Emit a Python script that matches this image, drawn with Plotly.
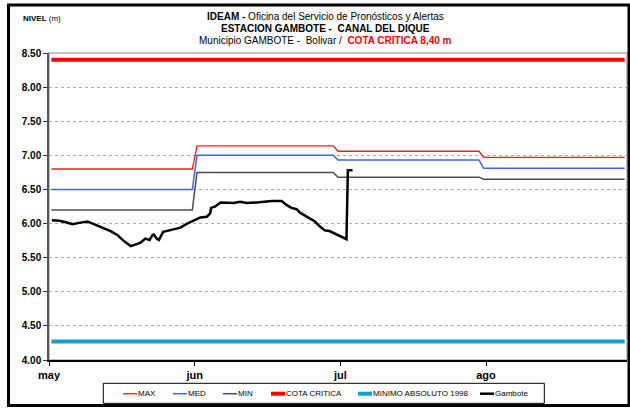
import plotly.graph_objects as go

# dias desde 1 de mayo (0 = may 1 ... 122 = ago 31)
month_names = ["may", "jun", "jul", "ago"]
month_days = [31, 30, 31, 31]

# niveles mensuales historicos (m)
max_vals = [6.80, 7.14, 7.06, 6.97]
med_vals = [6.50, 7.00, 6.93, 6.81]
min_vals = [6.20, 6.75, 6.68, 6.65]
cota_critica = 8.40
minimo_1998 = 4.27

# serie observada Gambote
gambote_day = [0.1, 1.7, 3.1, 4.5, 5.9, 7.7, 8.8, 10.2, 11.2, 12.6, 14.1, 15.5,
               16.9, 17.9, 19.0, 20.0, 20.9, 21.5, 21.8, 22.4, 22.9, 23.8, 25.0,
               26.1, 27.5, 28.9, 30.3, 31.7, 33.1, 33.8, 34.0, 34.9, 36.0, 37.4,
               38.8, 40.2, 41.6, 43.7, 45.5, 46.9, 49.0, 50.1, 51.1, 52.2, 52.9,
               53.9, 55.0, 56.1, 57.1, 58.2, 59.2, 60.3, 61.7, 62.8, 63.1, 64.1]
gambote_val = [6.05, 6.04, 6.02, 5.99, 6.01, 6.03, 6.00, 5.96, 5.94, 5.89, 5.83, 5.74,
               5.67, 5.69, 5.72, 5.78, 5.76, 5.83, 5.84, 5.78, 5.76, 5.88, 5.90,
               5.91, 5.94, 6.00, 6.04, 6.09, 6.10, 6.15, 6.23, 6.25, 6.31, 6.31,
               6.30, 6.32, 6.30, 6.31, 6.32, 6.33, 6.33, 6.27, 6.23, 6.21, 6.16,
               6.12, 6.08, 6.03, 5.96, 5.90, 5.89, 5.85, 5.80, 5.77, 6.78, 6.78]

days = list(range(sum(month_days)))


def daily(vals):
    out = []
    for v, n in zip(vals, month_days):
        out += [v] * n
    return out


FONT = "Liberation Sans Narrow, Arial Narrow, Liberation Sans, Arial"

# plot area in pixels
L, R, T, B = 49, 627, 53, 360
W, H = 630, 409


def px(X):
    return (X - L) / (R - L)


def py(Y):
    return (B - Y) / (B - T)


series = [
    ("MAX", daily(max_vals), "#ff1a1a", 1.3),
    ("MED", daily(med_vals), "#3f66e0", 1.5),
    ("MIN", daily(min_vals), "#4d4d4d", 1.5),
    ("COTA CRITICA", [cota_critica] * len(days), "#ff0000", 4),
    ("MINIMO ABSOLUTO 1998", [minimo_1998] * len(days), "#109fd0", 4),
]

fig = go.Figure()
for name, ys, color, width in series:
    fig.add_trace(go.Scatter(x=days, y=ys, name=name, mode="lines",
                             line=dict(color=color, width=width), showlegend=False))
fig.add_trace(go.Scatter(x=gambote_day, y=gambote_val, name="Gambote", mode="lines",
                         line=dict(color="black", width=2.5), showlegend=False))

# excel-style category axis: a label every 31 days
tick_pos = [-0.5 + 31 * i for i in range(len(month_names))]

fig.update_xaxes(range=[-0.5, 122.5], tickvals=tick_pos, ticktext=month_names,
                 ticks="outside", ticklen=4, tickcolor="black", showgrid=False,
                 showline=True, linecolor="black", linewidth=1.5, zeroline=False,
                 automargin=False,
                 tickfont=dict(family=FONT, size=11, color="black", weight="bold"))
fig.update_yaxes(range=[4, 8.5], dtick=0.5, tick0=4, tickformat=".2f",
                 ticks="outside", ticklen=4, tickcolor="#333",
                 showgrid=True, gridcolor="#aaaaaa", griddash="dot", gridwidth=1,
                 showline=True, linecolor="#555555", linewidth=1.5, zeroline=False,
                 automargin=False,
                 tickfont=dict(family=FONT, size=10, color="black", weight="bold"))

# plot area border (top / right) and outer frame
fig.add_shape(type="rect", xref="paper", yref="paper", x0=0, x1=1, y0=0, y1=1,
              line=dict(color="#b0b0b0", width=1.5), layer="below")
fig.add_shape(type="rect", xref="paper", yref="paper", x0=px(8.5), x1=px(629),
              y0=py(405.5), y1=py(5), line=dict(color="black", width=3))

# titulo
title_lines = [
    "<b>IDEAM - </b>Oficina del Servicio de Pronósticos y Alertas",
    "<b>ESTACION GAMBOTE -  CANAL DEL DIQUE</b>",
    "Municipio GAMBOTE -  Bolivar /  "
    "<b><span style='color:#ff0000'>COTA CRITICA 8,40 m</span></b>",
]
for i, txt in enumerate(title_lines):
    fig.add_annotation(xref="paper", yref="paper", x=px(325), y=py(17 + 12 * i),
                       showarrow=False, xanchor="center", yanchor="middle",
                       font=dict(family=FONT, size=10, color="black"), text=txt)
fig.add_annotation(xref="paper", yref="paper", x=px(21), y=py(19), showarrow=False,
                   xanchor="left", yanchor="middle",
                   font=dict(family=FONT, size=8, color="black"),
                   text="<b>NIVEL</b> (m)")

# leyenda
fig.add_shape(type="rect", xref="paper", yref="paper", x0=px(103.3), x1=px(544.3),
              y0=py(403.3), y1=py(383.3), line=dict(color="black", width=1))
legend_items = series + [("Gambote", None, "black", 2.5)]
legend_x = [123, 173, 223, 271, 358, 480]
for (name, _, color, width), lx in zip(legend_items, legend_x):
    fig.add_shape(type="line", xref="paper", yref="paper", x0=px(lx), x1=px(lx + 14),
                  y0=py(393.7), y1=py(393.7), line=dict(color=color, width=width))
    fig.add_annotation(xref="paper", yref="paper", x=px(lx + 14), y=py(393.7),
                       showarrow=False, xanchor="left", yanchor="middle",
                       font=dict(family=FONT, size=8, color="black"), text=name,
                       xshift=-1)

fig.update_layout(
    width=W, height=H,
    margin=dict(l=L, r=W - R, t=T, b=H - B, autoexpand=False),
    paper_bgcolor="white", plot_bgcolor="white",
)

# no page margin so the figure sits at the window corner
fig.write_html("out.html", config={"displayModeBar": False},
               post_script="document.body.style.margin='0';")
